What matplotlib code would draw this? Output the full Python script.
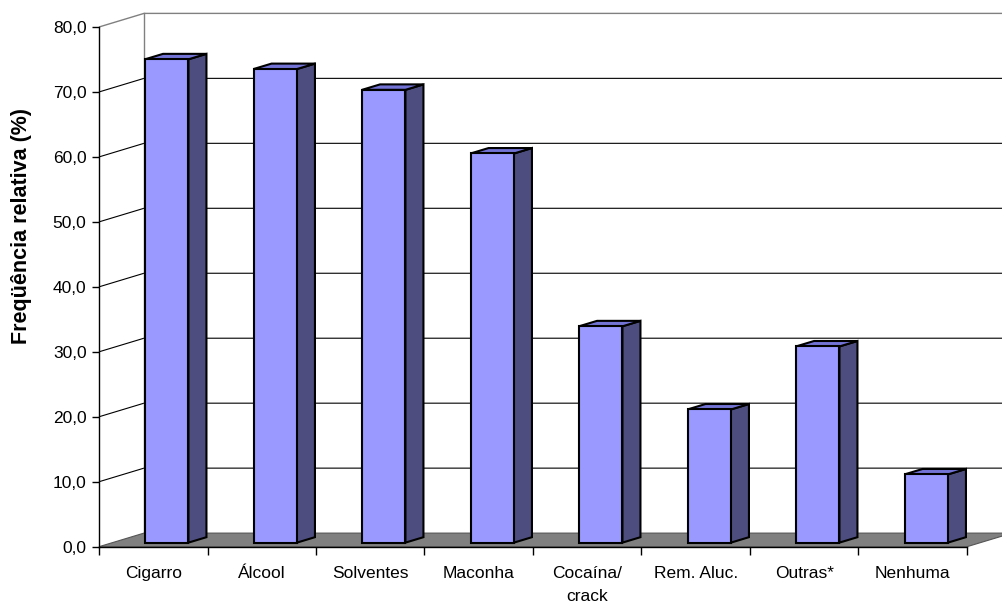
import matplotlib
matplotlib.use("Agg")
import matplotlib.pyplot as plt
from matplotlib.patches import Polygon
from matplotlib.ticker import FixedLocator, FuncFormatter, NullFormatter

plt.rcParams['font.family'] = ['Liberation Sans', 'DejaVu Sans']

categories = ["Cigarro", "Álcool", "Solventes", "Maconha", "Cocaína/\ncrack",
              "Rem. Aluc.", "Outras*", "Nenhuma"]
values = [74.4, 72.9, 69.7, 59.9, 33.3, 20.5, 30.2, 10.5]
y_ticks = [0, 10, 20, 30, 40, 50, 60, 70, 80]
y_label = "Freqüência relativa (%)"

FRONT = "#9999FF"
TOP = "#7373D6"
SIDE = "#4D4D80"
FLOOR = "#808080"

W, H = 1003, 603
fig = plt.figure(figsize=(W / 100, H / 100), dpi=100)
x0_px, x1_px = 99, 967
y0_px, y1_px = 546.7, 27.0
ax = fig.add_axes([x0_px / W, (H - y0_px) / H, (x1_px - x0_px) / W, (y0_px - y1_px) / H])
n = len(categories)
ymax = y_ticks[-1]
ax.set_xlim(0, n)
ax.set_ylim(0, ymax)
ax.patch.set_visible(False)

# oblique depth offset of the chart box (category units, value units)
DX = 45 / ((x1_px - x0_px) / n)
DY = 13.6 / ((y0_px - y1_px) / ymax)

def depth(x, y, d):
    return (x + d * DX, y + d * DY)

# gridlines on side wall and back wall
for v in y_ticks[1:]:
    col = "#808080" if v == ymax else "black"
    px = [0, DX, n + DX]
    py = [v, v + DY, v + DY]
    ax.plot(px, py, color=col, lw=1.0 if v == ymax else 0.8, clip_on=False, zorder=1,
            solid_capstyle="butt")
# back-left vertical edge
ax.plot([DX, DX], [DY, ymax + DY], color="#808080", lw=1.0, clip_on=False, zorder=1)

# floor
floor = Polygon([depth(0, 0, 0), depth(0, 0, 1), depth(n, 0, 1), depth(n, 0, 0)],
                closed=True, facecolor=FLOOR, edgecolor="#555555", lw=0.8,
                clip_on=False, zorder=2)
ax.add_patch(floor)

# 3D columns
d0, d1 = 0.3, 0.7
hw = 0.2
for i, v in enumerate(values):
    c = i + 0.5
    fl, fr = c - hw, c + hw
    front = [depth(fl, 0, d0), depth(fr, 0, d0), depth(fr, v, d0), depth(fl, v, d0)]
    side = [depth(fr, 0, d0), depth(fr, 0, d1), depth(fr, v, d1), depth(fr, v, d0)]
    top = [depth(fl, v, d0), depth(fr, v, d0), depth(fr, v, d1), depth(fl, v, d1)]
    for pts, col in ((side, SIDE), (top, TOP), (front, FRONT)):
        ax.add_patch(Polygon(pts, closed=True, facecolor=col, edgecolor="black",
                             lw=1.5, joinstyle="miter", clip_on=False, zorder=3))

# axes
for s in ("top", "right"):
    ax.spines[s].set_visible(False)
for s in ("left", "bottom"):
    ax.spines[s].set_color("black")
    ax.spines[s].set_linewidth(1.0)
    ax.spines[s].set_zorder(4)

ax.yaxis.set_major_locator(FixedLocator(y_ticks))
ax.yaxis.set_major_formatter(FuncFormatter(lambda v, p: f"{v:.1f}".replace(".", ",")))
ax.tick_params(axis="y", which="major", direction="out", length=5, width=1.0,
               pad=4, labelsize=12.5, colors="black")

ax.xaxis.set_major_locator(FixedLocator(range(n + 1)))
ax.xaxis.set_major_formatter(NullFormatter())
ax.xaxis.set_minor_locator(FixedLocator([i + 0.5 for i in range(n)]))
ax.set_xticklabels(categories, minor=True)
ax.tick_params(axis="x", which="major", direction="out", length=6, width=1.0)
ax.tick_params(axis="x", which="minor", length=0, pad=14, labelsize=12.5)
for t in ax.xaxis.get_minorticklabels():
    t.set_linespacing(1.65)

fig.text(22 / W, 1 - 226 / H, y_label, rotation=90, fontsize=15.5, fontweight="bold",
         ha="center", va="center")

fig.savefig("out.png", dpi=100)
